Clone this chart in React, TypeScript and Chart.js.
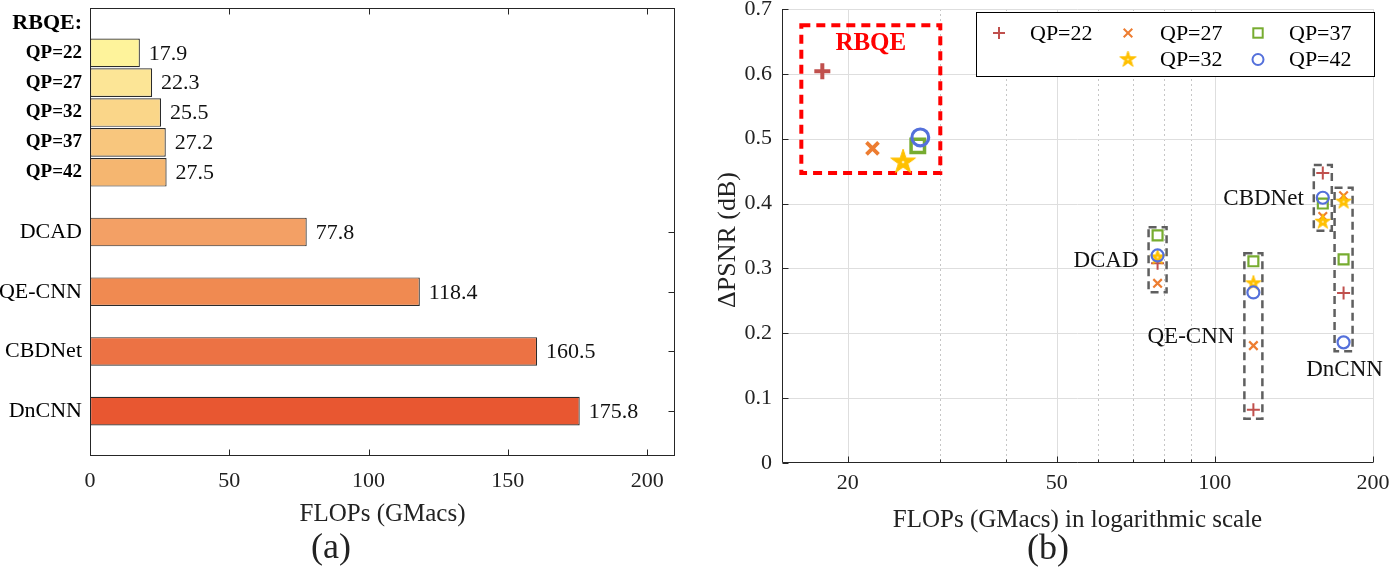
import React, { useEffect, useRef } from 'react';
import { Chart, registerables } from 'chart.js';
Chart.register(...registerables);

const FONT = '"Liberation Serif", "Times New Roman", serif';

// ---------- Panel (a) data ----------
const barLabels = ['RBQE:', 'QP=22', 'QP=27', 'QP=32', 'QP=37', 'QP=42', '', 'DCAD', '', 'QE-CNN', '', 'CBDNet', '', 'DnCNN', ''];
const barValues = [null, 17.9, 22.3, 25.5, 27.2, 27.5, null, 77.8, null, 118.4, null, 160.5, null, 175.8, null];
const flopsTicks = [0, 50, 100, 150, 200];

// ---------- Panel (b) data ----------
const qpLabels = ['QP=22', 'QP=27', 'QP=32', 'QP=37', 'QP=42'];
const methods = ['RBQE', 'DCAD', 'QE-CNN', 'CBDNet', 'DnCNN'];
const rbqeFlops = [17.9, 22.3, 25.5, 27.2, 27.5];
const methodFlops = [0, 77.8, 118.4, 160.5, 175.8]; // RBQE uses rbqeFlops per QP
const psnrQP22 = [0.604, 0.308, 0.082, 0.447, 0.262];
const psnrQP27 = [0.485, 0.277, 0.181, 0.380, 0.412];
const psnrQP32 = [0.464, 0.317, 0.277, 0.372, 0.403];
const psnrQP37 = [0.489, 0.351, 0.311, 0.400, 0.314];
const psnrQP42 = [0.502, 0.320, 0.263, 0.409, 0.186];
const psnrSeries = [psnrQP22, psnrQP27, psnrQP32, psnrQP37, psnrQP42];
const logMajorTicks = [20, 50, 100, 200];
const logMinorTicks = [30, 40, 60, 70, 80, 90];

// ---------- styles ----------
const barColors = ['rgba(0,0,0,0)', '#FEF39B', '#FCE596', '#FAD689', '#F8C67D', '#F5B670', 'rgba(0,0,0,0)', '#F3A065', 'rgba(0,0,0,0)', '#F08A51', 'rgba(0,0,0,0)', '#EC7244', 'rgba(0,0,0,0)', '#E85731', 'rgba(0,0,0,0)'];
const qpColors = ['#C0504D', '#ED7D31', '#FFC000', '#77AC30', '#5470DB'];
const qpPointStyles = ['cross', 'crossRot', 'star', 'rect', 'circle'];
const bigRadius = [8, 8.5, 13, 9.5, 8.4];
const smallRadius = [6.5, 6, 8, 7, 6];
const bigWidth = [4, 3.8, 0, 3.5, 3.2];
const smallWidth = [2, 2.2, 0, 2.2, 2.2];
const methodLabelSide = ['none', 'left', 'left', 'left', 'below'];

// vertical shift of canvas (b) to compensate Chart.js label padding at the top
const B_SHIFT = 4;

function starPath(g: any, cx: number, cy: number, R: number) {
  const r = R * 0.382;
  g.beginPath();
  for (let k = 0; k < 10; k++) {
    const a = -Math.PI / 2 + (k * Math.PI) / 5;
    const rr = k % 2 === 0 ? R : r;
    const px = cx + rr * Math.cos(a);
    const py = cy + rr * Math.sin(a);
    if (k === 0) g.moveTo(px, py);
    else g.lineTo(px, py);
  }
  g.closePath();
}

function makeStar(R: number, color: string) {
  const size = Math.ceil(2 * R + 4);
  const c = document.createElement('canvas');
  c.width = size;
  c.height = size;
  const g = c.getContext('2d')!;
  const cx = size / 2, cy = size / 2;
  starPath(g, cx, cy, R);
  g.fillStyle = color;
  g.fill();
  g.lineWidth = 1;
  g.strokeStyle = color;
  g.stroke();
  g.beginPath();
  g.arc(cx, cy, Math.max(0.9, R * 0.1), 0, Math.PI * 2);
  g.fillStyle = '#fff4c0';
  g.fill();
  return c;
}

function drawLegendMarker(ctx: any, kind: string, x: number, y: number, color: string, star: any) {
  ctx.save();
  ctx.strokeStyle = color;
  ctx.lineWidth = 2;
  ctx.beginPath();
  if (kind === 'cross') {
    ctx.moveTo(x - 6, y); ctx.lineTo(x + 6, y);
    ctx.moveTo(x, y - 6); ctx.lineTo(x, y + 6);
    ctx.stroke();
  } else if (kind === 'crossRot') {
    ctx.moveTo(x - 4.3, y - 4.3); ctx.lineTo(x + 4.3, y + 4.3);
    ctx.moveTo(x + 4.3, y - 4.3); ctx.lineTo(x - 4.3, y + 4.3);
    ctx.stroke();
  } else if (kind === 'rect') {
    ctx.strokeRect(x - 4.7, y - 4.7, 9.4, 9.4);
  } else if (kind === 'circle') {
    ctx.arc(x, y, 5.5, 0, Math.PI * 2);
    ctx.stroke();
  } else if (kind === 'star') {
    ctx.drawImage(star, x - star.width / 2, y - star.height / 2);
  }
  ctx.restore();
}

const panelAPlugin = {
  id: 'panelA',
  afterDatasetsDraw(chart: any) {
    const { ctx, chartArea: ca } = chart;
    const xs = chart.scales.x, ys = chart.scales.y;
    const meta = chart.getDatasetMeta(0);
    ctx.save();
    // value labels
    ctx.font = `22px ${FONT}`;
    ctx.fillStyle = '#111';
    ctx.textAlign = 'left';
    ctx.textBaseline = 'middle';
    meta.data.forEach((el: any, i: number) => {
      const v = barValues[i];
      if (v == null) return;
      ctx.fillText(v.toFixed(1), el.x + 9, el.y + 1);
    });
    // frame
    ctx.strokeStyle = '#262626';
    ctx.lineWidth = 1;
    const L = Math.round(ca.left) + 0.5, R = Math.round(ca.right) - 0.5;
    const T = Math.round(ca.top) + 0.5, B = Math.round(ca.bottom) - 0.5;
    ctx.strokeRect(L, T, R - L, B - T);
    ctx.beginPath();
    flopsTicks.forEach((v) => {
      const px = Math.round(xs.getPixelForValue(v)) + 0.5;
      ctx.moveTo(px, B); ctx.lineTo(px, B - 6);
      ctx.moveTo(px, T); ctx.lineTo(px, T + 6);
    });
    barLabels.forEach((lab, i) => {
      if (!lab || lab.startsWith('QP') || lab === 'RBQE:') return;
      const py = Math.round(ys.getPixelForValue(i)) + 0.5;
      ctx.moveTo(R, py); ctx.lineTo(R - 6, py);
    });
    ctx.stroke();
    // titles
    ctx.fillStyle = '#222';
    ctx.textAlign = 'center';
    ctx.font = `25px ${FONT}`;
    ctx.fillText('FLOPs (GMacs)', (ca.left + ca.right) / 2, 514);
    ctx.font = `36px ${FONT}`;
    ctx.fillText('(a)', 331, 549);
    ctx.restore();
  },
};

function makePanelBPlugin(legendStar: any) {
  return {
    id: 'panelB',
    beforeDatasetsDraw(chart: any) {
      const { ctx, chartArea: ca } = chart;
      const xs = chart.scales.x, ys = chart.scales.y;
      ctx.save();
      ctx.lineWidth = 1;
      // minor dotted grid
      ctx.strokeStyle = '#c6c6c6';
      ctx.setLineDash([2, 3]);
      ctx.beginPath();
      logMinorTicks.forEach((v) => {
        const px = Math.round(xs.getPixelForValue(v)) + 0.5;
        ctx.moveTo(px, ca.top); ctx.lineTo(px, ca.bottom);
      });
      ctx.stroke();
      ctx.setLineDash([]);
      // major grid
      ctx.strokeStyle = '#dedede';
      ctx.beginPath();
      logMajorTicks.forEach((v) => {
        const px = Math.round(xs.getPixelForValue(v)) + 0.5;
        ctx.moveTo(px, ca.top); ctx.lineTo(px, ca.bottom);
      });
      ys.ticks.forEach((t: any) => {
        if (t.value <= 0) return;
        const py = Math.round(ys.getPixelForValue(t.value)) + 0.5;
        ctx.moveTo(ca.left, py); ctx.lineTo(ca.right, py);
      });
      ctx.stroke();

      // method dashed boxes
      ctx.strokeStyle = '#5f5f5f';
      ctx.lineWidth = 2.5;
      ctx.setLineDash([8, 5]);
      methods.forEach((m, j) => {
        if (j === 0) return;
        const px = xs.getPixelForValue(methodFlops[j]);
        const pys = psnrSeries.map((s) => ys.getPixelForValue(s[j]));
        const top = Math.min(...pys) - 8, bot = Math.max(...pys) + 9;
        ctx.strokeRect(px - 9, top, 18, bot - top);
      });
      // RBQE red box
      const rx = rbqeFlops.map((f) => xs.getPixelForValue(f));
      const ry = psnrSeries.map((s) => ys.getPixelForValue(s[0]));
      const bl = Math.min(...rx) - 21, br = Math.max(...rx) + 20;
      const bt = Math.min(...ry) - 46, bb = Math.max(...ry) + 11;
      ctx.strokeStyle = '#FF0000';
      ctx.lineWidth = 4;
      ctx.setLineDash([9, 6]);
      ctx.strokeRect(bl, bt, br - bl, bb - bt);
      ctx.setLineDash([]);
      ctx.fillStyle = '#FF0000';
      ctx.font = `bold 25px ${FONT}`;
      ctx.textAlign = 'center';
      ctx.textBaseline = 'middle';
      ctx.fillText('RBQE', (bl + br) / 2, bt + 18);
      ctx.restore();
    },
    afterDatasetsDraw(chart: any) {
      const { ctx, chartArea: ca } = chart;
      const xs = chart.scales.x, ys = chart.scales.y;
      ctx.save();
      // axes
      ctx.strokeStyle = '#262626';
      ctx.lineWidth = 1;
      const L = Math.round(ca.left) + 0.5, B = Math.round(ca.bottom) - 0.5;
      ctx.beginPath();
      ctx.moveTo(L, ca.top); ctx.lineTo(L, B); ctx.lineTo(ca.right, B);
      logMajorTicks.forEach((v) => {
        const px = Math.round(xs.getPixelForValue(v)) + 0.5;
        ctx.moveTo(px, B); ctx.lineTo(px, B - 6);
      });
      logMinorTicks.forEach((v) => {
        const px = Math.round(xs.getPixelForValue(v)) + 0.5;
        ctx.moveTo(px, B); ctx.lineTo(px, B - 3);
      });
      ys.ticks.forEach((t: any) => {
        const py = Math.round(ys.getPixelForValue(t.value)) + 0.5;
        ctx.moveTo(L, py); ctx.lineTo(L + 6, py);
      });
      ctx.stroke();

      // method labels
      ctx.fillStyle = '#111';
      ctx.font = `23px ${FONT}`;
      ctx.textBaseline = 'middle';
      methods.forEach((m, j) => {
        if (j === 0) return;
        const px = xs.getPixelForValue(methodFlops[j]);
        const pys = psnrSeries.map((s) => ys.getPixelForValue(s[j]));
        const top = Math.min(...pys) - 8, bot = Math.max(...pys) + 9;
        if (methodLabelSide[j] === 'left') {
          ctx.textAlign = 'right';
          ctx.fillText(m, px - 19, (top + bot) / 2 + 1);
        } else {
          ctx.textAlign = 'center';
          ctx.fillText(m, px + 1, bot + 19);
        }
      });

      // legend
      const lw = 398, lh = 64;
      const lx = Math.round(ca.right) + 1 - lw, ly = Math.round(ca.top) + 3;
      ctx.fillStyle = '#fff';
      ctx.fillRect(lx, ly, lw, lh);
      ctx.strokeStyle = '#000';
      ctx.lineWidth = 1;
      ctx.strokeRect(lx + 0.5, ly + 0.5, lw, lh);
      const slots = [[0, 0], [1, 0], [1, 1], [2, 0], [2, 1]];
      const markerX = [23, 152, 282];
      const textX = [54, 184, 313];
      const rowY = [21, 47.5];
      ctx.font = `22px ${FONT}`;
      ctx.textAlign = 'left';
      ctx.textBaseline = 'middle';
      qpLabels.forEach((lab, i) => {
        const [c, r] = slots[i];
        drawLegendMarker(ctx, qpPointStyles[i], lx + markerX[c], ly + rowY[r], qpColors[i], legendStar);
        ctx.fillStyle = '#000';
        ctx.fillText(lab, lx + textX[c], ly + rowY[r] + 1);
      });

      // titles
      ctx.fillStyle = '#222';
      ctx.textAlign = 'center';
      ctx.font = `25px ${FONT}`;
      ctx.fillText('FLOPs (GMacs) in logarithmic scale', (ca.left + ca.right) / 2, 520 + B_SHIFT);
      ctx.font = `36px ${FONT}`;
      ctx.fillText('(b)', 358, 550 + B_SHIFT);
      ctx.save();
      ctx.translate(38, 240 + B_SHIFT);
      ctx.rotate(-Math.PI / 2);
      ctx.font = `26px ${FONT}`;
      ctx.fillText('ΔPSNR (dB)', 0, 0);
      ctx.restore();
      ctx.restore();
    },
  };
}

export default function App() {
  const refA = useRef<HTMLCanvasElement>(null);
  const refB = useRef<HTMLCanvasElement>(null);

  useEffect(() => {
    const bigStar = makeStar(13, qpColors[2]);
    const smallStar = makeStar(8, qpColors[2]);
    const legendStar = makeStar(8.5, qpColors[2]);

    const chartA = new Chart(refA.current as any, {
      type: 'bar',
      data: {
        labels: barLabels,
        datasets: [
          {
            data: barValues as any,
            backgroundColor: barColors,
            borderColor: '#2b2b2b',
            borderWidth: 1.2,
            borderSkipped: false,
            categoryPercentage: 1,
            barPercentage: 0.96,
          } as any,
        ],
      },
      options: {
        indexAxis: 'y',
        responsive: false,
        animation: false,
        events: [],
        layout: { padding: { left: 0, right: 15, top: 8, bottom: 0 } },
        plugins: { legend: { display: false }, tooltip: { enabled: false } },
        scales: {
          x: {
            type: 'linear',
            min: 0,
            max: 210,
            afterBuildTicks: (s: any) => {
              s.ticks = flopsTicks.map((v) => ({ value: v }));
            },
            grid: { display: false, drawTicks: false },
            border: { display: false },
            ticks: {
              font: { family: FONT, size: 22 },
              color: '#222',
              padding: 12,
              maxRotation: 0,
              autoSkip: false,
              callback: (v: any) => String(v),
            },
            afterFit: (s: any) => {
              s.height = 117;
              s.paddingLeft = 0;
              s.paddingRight = 0;
            },
          } as any,
          y: {
            type: 'category',
            grid: { display: false, drawTicks: false },
            border: { display: false },
            ticks: {
              autoSkip: false,
              padding: 8,
              color: '#000',
              font: (c: any) => {
                const lab = barLabels[c.index] || '';
                if (lab === 'RBQE:') return { family: FONT, size: 22, weight: 'bold' };
                if (lab.startsWith('QP')) return { family: FONT, size: 19, weight: 'bold' };
                return { family: FONT, size: 22 };
              },
            },
            afterFit: (s: any) => {
              s.width = 90;
              s.paddingTop = 0;
              s.paddingBottom = 0;
            },
          } as any,
        },
      } as any,
      plugins: [panelAPlugin as any],
    });

    const datasets = qpLabels.map((lab, i) => ({
      label: lab,
      data: methods.map((m, j) => ({ x: j === 0 ? rbqeFlops[i] : methodFlops[j], y: psnrSeries[i][j] })),
      order: 4 - i,
      borderColor: qpColors[i],
      backgroundColor: 'rgba(0,0,0,0)',
      pointBackgroundColor: 'rgba(0,0,0,0)',
      pointBorderColor: qpColors[i],
      pointStyle: qpPointStyles[i] === 'star'
        ? (c: any) => (c.dataIndex === 0 ? bigStar : smallStar)
        : qpPointStyles[i],
      pointRadius: (c: any) => (c.dataIndex === 0 ? bigRadius[i] : smallRadius[i]),
      pointBorderWidth: (c: any) => (c.dataIndex === 0 ? bigWidth[i] : smallWidth[i]),
      showLine: false,
    }));

    const chartB = new Chart(refB.current as any, {
      type: 'scatter',
      data: { datasets: datasets as any },
      options: {
        responsive: false,
        animation: false,
        events: [],
        layout: { padding: { left: 0, right: 21, top: 8, bottom: 0 } },
        plugins: { legend: { display: false }, tooltip: { enabled: false } },
        scales: {
          x: {
            type: 'logarithmic',
            min: 15,
            max: 200,
            afterBuildTicks: (s: any) => {
              s.ticks = logMajorTicks.map((v) => ({ value: v }));
            },
            grid: { display: false, drawTicks: false },
            border: { display: false },
            ticks: {
              font: { family: FONT, size: 22 },
              color: '#222',
              padding: 7,
              maxRotation: 0,
              autoSkip: false,
              callback: (v: any) => String(v),
            },
            afterFit: (s: any) => {
              s.height = 110;
              s.paddingLeft = 0;
              s.paddingRight = 0;
            },
          } as any,
          y: {
            type: 'linear',
            min: 0,
            max: 0.7,
            grid: { display: false, drawTicks: false },
            border: { display: false },
            ticks: {
              stepSize: 0.1,
              font: { family: FONT, size: 22 },
              color: '#222',
              padding: 10,
              callback: (v: any) => (Math.abs(v) < 1e-9 ? '0' : Number(v).toFixed(1)),
            },
            afterFit: (s: any) => {
              s.width = 92;
              s.paddingTop = 0;
              s.paddingBottom = 0;
            },
          } as any,
        },
      } as any,
      plugins: [makePanelBPlugin(legendStar) as any],
    });

    return () => {
      chartA.destroy();
      chartB.destroy();
    };
  }, []);

  return (
    <div style={{ position: 'absolute', left: 0, top: 0, width: 1394, height: 573, background: '#fff', overflow: 'hidden' }}>
      <canvas ref={refA} width={690} height={573} style={{ position: 'absolute', left: 0, top: 0, width: 690, height: 573 }} />
      <canvas ref={refB} width={704} height={573 + B_SHIFT} style={{ position: 'absolute', left: 690, top: -B_SHIFT, width: 704, height: 573 + B_SHIFT }} />
    </div>
  );
}
